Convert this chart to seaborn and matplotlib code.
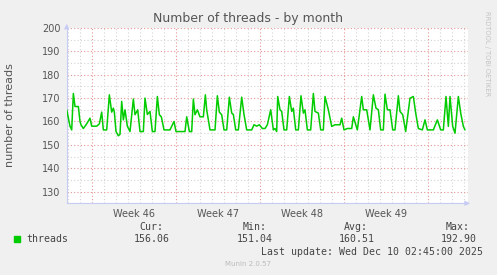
import matplotlib
matplotlib.use("Agg")
import matplotlib.pyplot as plt
from matplotlib.ticker import MultipleLocator, FixedLocator
from matplotlib.patches import Rectangle
import numpy as np
import pandas as pd
import seaborn as sns

# ---------------- data ----------------
# hours since the left edge of the graph
hours = [0, 6.6, 10, 13.3, 16.6, 23.3, 26.6, 28.6, 33.3, 40, 46.6, 50, 60, 65.3, 70, 73.3, 80,
         85.3, 90, 93.3, 95.3, 98.6, 103.3, 106.6, 110, 113.3, 116.6, 121.3, 126.6, 133.3,
         136.6, 142, 146.6, 153.3, 156.6, 161.3, 166.6, 171.3, 176.6, 181.3, 185.3, 189.3,
         194.6, 200, 206.6, 214.6, 218.6, 236.6, 240, 245.3, 250, 253.3, 256.6, 261.3, 266.6,
         273.3, 277.3, 280, 286.6, 296.6, 301.3, 305.3, 310, 314.6, 320, 325.3, 330, 333.3,
         338, 343.3, 350, 354.6, 360, 370, 374.6, 380, 385.3, 391.3, 396.6, 401.3, 408, 413.3,
         416.6, 420, 422, 426.6, 430, 434.6, 440, 445.3, 450, 453.3, 458, 463.3, 468.6, 473.3,
         476.6, 481.3, 488, 493.3, 496.6, 503.3, 508, 513.3, 516.6, 523.3, 530, 536.6, 546.6,
         550, 554.6, 561.3, 570, 573.3, 581.3, 590, 593.3, 600, 606.6, 613.3, 618.6, 623.3,
         628, 633.3, 636.6, 641.3, 646.6, 652, 656.6, 663.3, 666.6, 672, 678, 686.6, 693.3,
         698, 703.3, 711.3, 716.6, 721.3, 733.3, 741.3, 748, 753.3, 758.6, 763.3, 766.6, 772,
         776.6, 783.3, 788, 793.3, 796.6]
threads = [165, 158, 156.4, 172, 166.4, 166.4, 160, 158.6, 157, 159, 161.4, 158, 158, 159, 164,
           156.4, 156.4, 171.4, 164, 165.7, 164, 155.7, 153.9, 154.5, 168.6, 160.7, 165, 158,
           155.7, 169.6, 162.9, 165, 155.7, 155.7, 170, 163, 164.3, 155.7, 155.7, 170.7, 162.9,
           162, 156.4, 156.4, 156.4, 160, 155.7, 155.7, 162, 155.7, 155.7, 169.6, 162.9, 165,
           162, 162, 171.4, 165, 156.4, 156.4, 171, 164, 162.9, 156.4, 156.4, 170.4, 163.6, 163,
           156.4, 156.4, 170.4, 163, 156.4, 156.4, 158.6, 158, 158.6, 157, 157, 158.6, 165,
           156.4, 157, 155.7, 170.7, 165, 164.3, 156.4, 156.4, 170.7, 164.3, 165.7, 156.4,
           156.4, 171, 163.6, 165, 156.4, 156.4, 172, 164.3, 163.6, 156.4, 156.4, 170.7, 165,
           157.9, 158.6, 158.6, 161.4, 156.4, 157, 157, 162, 156.4, 170.7, 165, 165, 156.4,
           171.4, 165.7, 165, 156.4, 156.4, 171.7, 165, 165, 156.4, 156.4, 171, 164.3, 162.9,
           155.7, 170, 170.7, 163.6, 157, 156.4, 160.7, 156.4, 156.4, 160.7, 156.4, 156.4,
           170.7, 157.9, 170.7, 157.9, 155, 170.7, 163.6, 157.9, 156.4]

graph_hours = 802.6
week_start_hours = [51, 219, 387, 555, 723]
week_labels = ["Week 46", "Week 47", "Week 48", "Week 49", "Week 50"]
y_ticks = [130, 140, 150, 160, 170, 180, 190, 200]
y_min, y_max = 125, 200

title = "Number of threads - by month"
y_label = "number of threads"
series_name = "threads"
stat_names = ["Cur:", "Min:", "Avg:", "Max:"]
stat_values = ["156.06", "151.04", "160.51", "192.90"]
last_update = "Last update: Wed Dec 10 02:45:00 2025"
footer = "Munin 2.0.57"
side_text = "RRDTOOL / TOBI OETIKER"

# ---------------- styling ----------------
sns.set_theme(style="white")
plt.rcParams["font.family"] = ["DejaVu Sans"]

W, H = 497, 275
fig = plt.figure(figsize=(W / 100, H / 100), dpi=100, facecolor="#f0f0f0")
ax_l, ax_r, ax_t, ax_b = 66.7, 468, 28, 203.3
ax = fig.add_axes([ax_l / W, 1 - ax_b / H, (ax_r - ax_l) / W, (ax_b - ax_t) / H])
ax.set_facecolor("white")

df = pd.DataFrame({"hour": hours, "threads": threads})
sns.lineplot(data=df, x="hour", y="threads", color="#00cc00", linewidth=1.1,
             ax=ax, legend=False, zorder=5)

ax.set_xlim(0, graph_hours)
ax.set_ylim(y_min, y_max)
ax.set_xlabel("")
ax.set_ylabel("")

# grids
red = "#e69494"
gray = "#d4d4d4"
dots = (0, (1, 2))
ax.xaxis.set_major_locator(FixedLocator(week_start_hours))
ax.xaxis.set_minor_locator(MultipleLocator(24, offset=3))
ax.yaxis.set_major_locator(FixedLocator(y_ticks))
ax.yaxis.set_minor_locator(MultipleLocator(5))
ax.set_axisbelow(True)
ax.grid(which="minor", axis="both", color=gray, linestyle=dots, linewidth=0.8)
ax.grid(which="major", axis="both", color=red, linestyle=dots, linewidth=0.8)

ax.tick_params(axis="x", which="major", length=3, width=0.8, color="#e05050",
               direction="out", labelbottom=False)
ax.tick_params(axis="x", which="minor", length=0)
ax.tick_params(axis="y", which="both", length=0, pad=4.5, labelsize=7, labelcolor="#555555")
ax.set_yticklabels([str(v) for v in y_ticks])

# week labels centred in each week
sec = ax.secondary_xaxis("bottom")
sec.set_xticks([w + 84 for w in week_start_hours], labels=week_labels)
sec.tick_params(length=0, pad=4, labelsize=7, labelcolor="#555555")
sec.spines["bottom"].set_visible(False)

for s in ["top", "right"]:
    ax.spines[s].set_visible(False)
axis_col = "#c8ccf4"
for s in ["left", "bottom"]:
    ax.spines[s].set_color(axis_col)
    ax.spines[s].set_linewidth(0.8)
ax.annotate("", xy=(1.012, 0), xytext=(0.99, 0), xycoords="axes fraction",
            arrowprops=dict(arrowstyle="-|>", color=axis_col, lw=0.8, mutation_scale=7),
            annotation_clip=False)
ax.annotate("", xy=(0, 1.04), xytext=(0, 0.99), xycoords="axes fraction",
            arrowprops=dict(arrowstyle="-|>", color=axis_col, lw=0.8, mutation_scale=7),
            annotation_clip=False)

# texts
fig.text(247.8 / W, 1 - 18.8 / H, title, ha="center", va="center", fontsize=9,
         color="#555555")
fig.text(10 / W, 1 - 115 / H, y_label, ha="center", va="center", rotation=90,
         fontsize=8, color="#555555")
fig.text(486.7 / W, 1 - 53.5 / H, side_text, ha="center", va="center", rotation=270,
         fontsize=4.8, color="#c4c4c4")

mono = ["DejaVu Sans Mono"]
fs = 7.1
tc = "#444444"
fig.patches.append(Rectangle((14 / W, 1 - 242.3 / H), 6 / W, 6 / H,
                             transform=fig.transFigure, color="#00cc00"))
fig.text(26.7 / W, 1 - 239.3 / H, series_name, ha="left", va="center",
         fontsize=fs, family=mono, color=tc)
head_right = [163.3, 266.7, 368.3, 470]
val_right = [169.3, 273, 375, 476.7]
for name, hx in zip(stat_names, head_right):
    fig.text(hx / W, 1 - 227.3 / H, name, ha="right", va="center", fontsize=fs,
             family=mono, color=tc)
for val, vx in zip(stat_values, val_right):
    fig.text(vx / W, 1 - 239.3 / H, val, ha="right", va="center", fontsize=fs,
             family=mono, color=tc)
fig.text(482.7 / W, 1 - 251.7 / H, last_update, ha="right", va="center", fontsize=fs,
         family=mono, color=tc)
fig.text(248 / W, 1 - 263.7 / H, footer, ha="center", va="center", fontsize=5,
         color="#bbbbbb")

fig.savefig("out.png", dpi=100, facecolor=fig.get_facecolor())
